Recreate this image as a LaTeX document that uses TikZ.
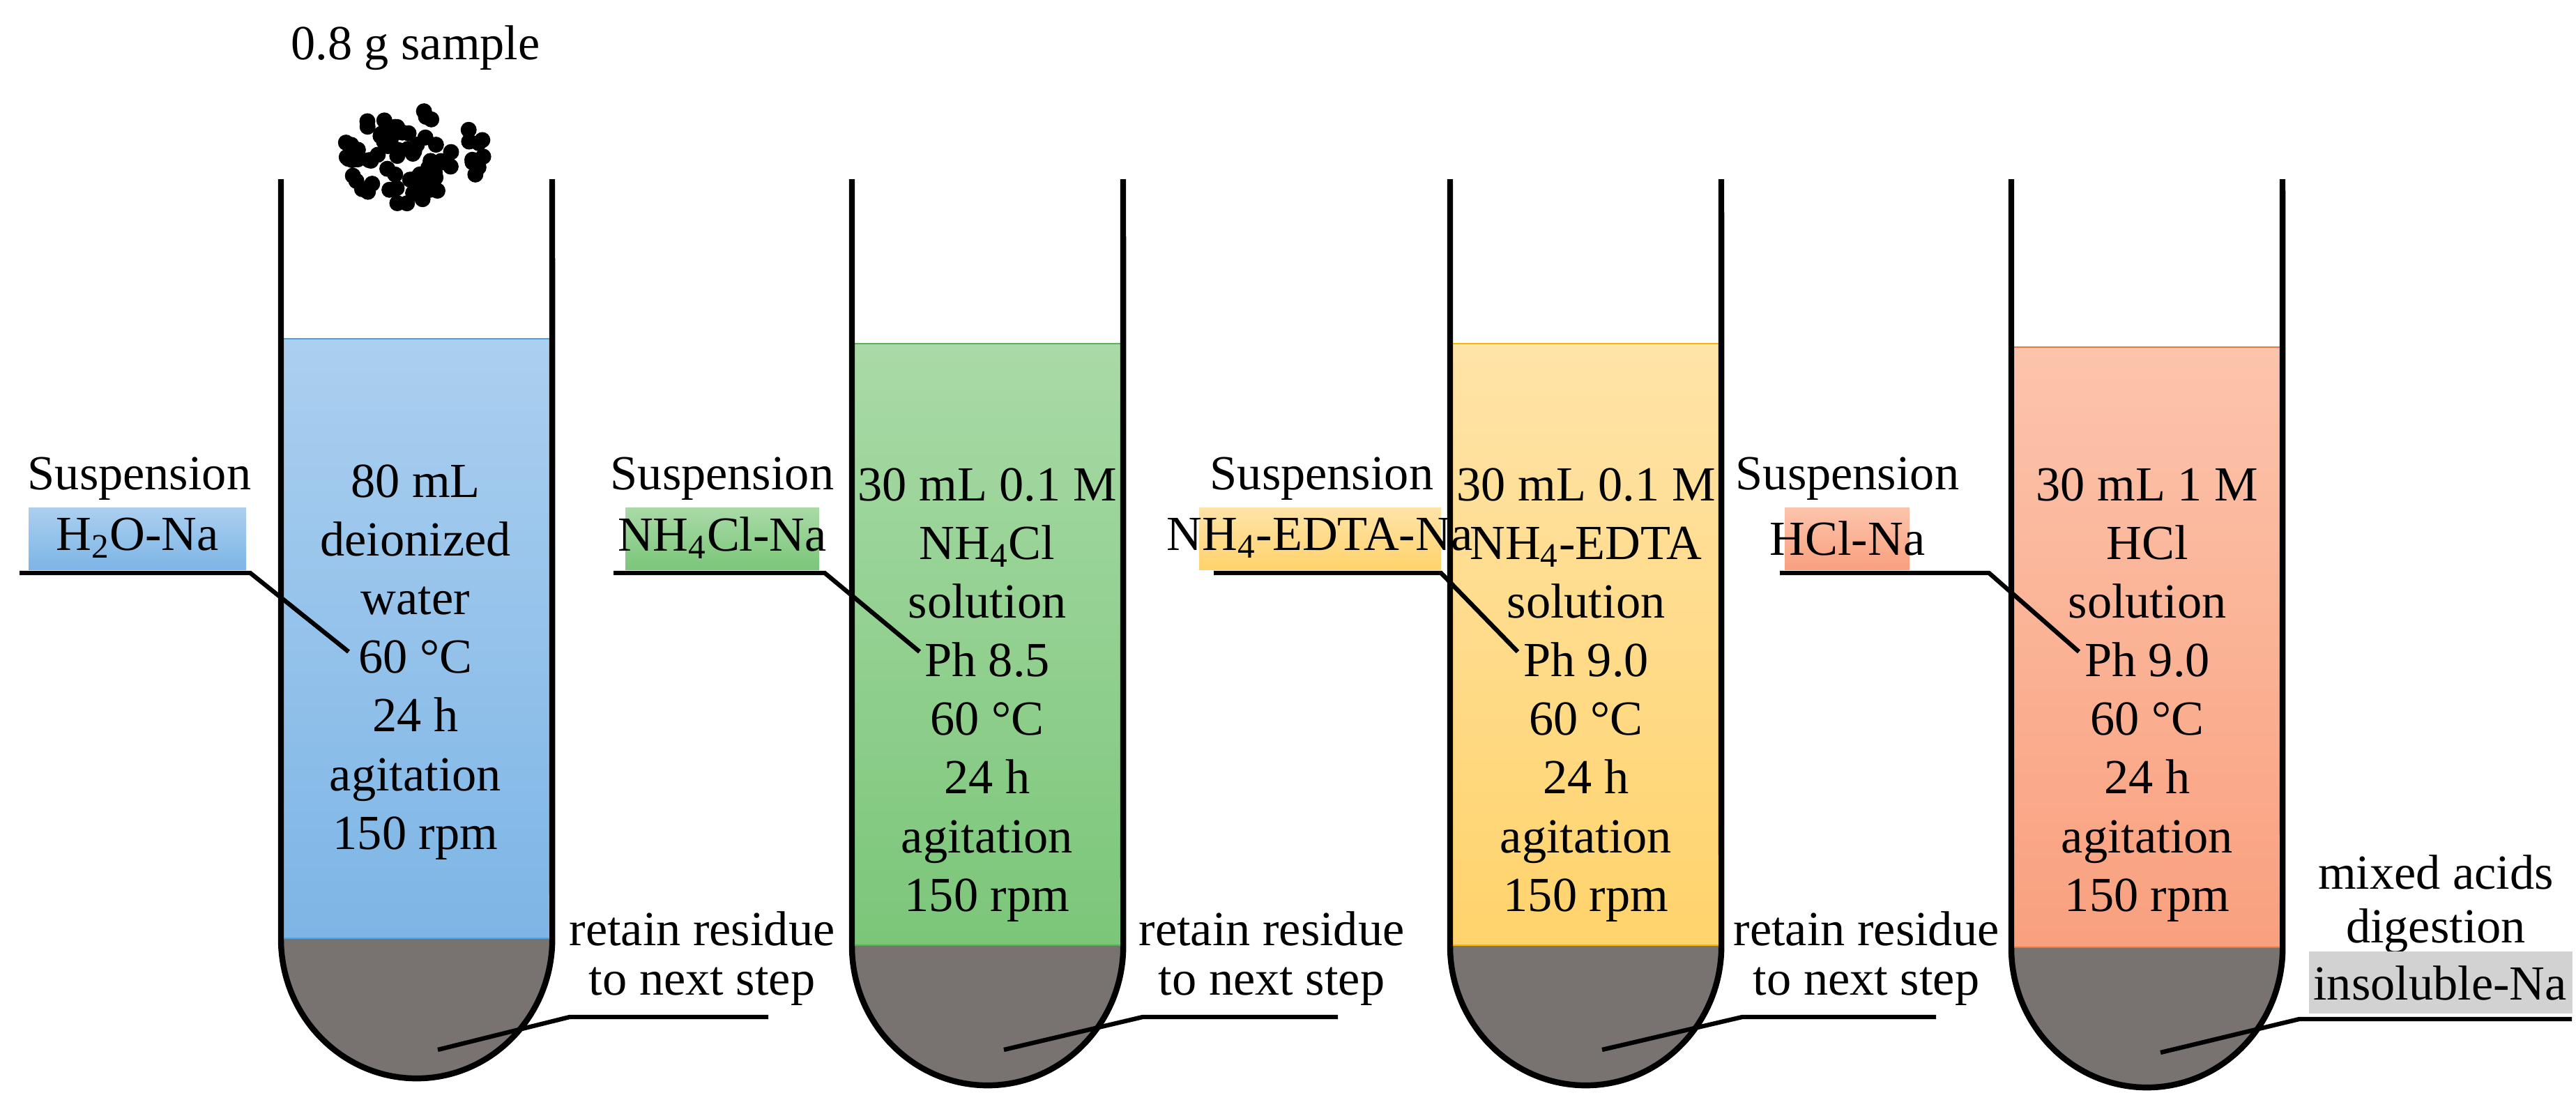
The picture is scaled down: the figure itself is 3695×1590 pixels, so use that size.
\documentclass[tikz,border=0pt]{standalone}
\usepackage{fontspec}
\setmainfont{Liberation Serif}
\begin{document}
\begin{tikzpicture}[x=0.01cm,y=-0.01cm,
  txt/.style={font=\fontsize{20}{23.9}\selectfont,align=center,inner sep=1pt},
  lbl/.style={font=\fontsize{20}{23.9}\selectfont,inner sep=2pt},
  wall/.style={line width=2.4pt},
  conn/.style={line width=1.8pt}]
\definecolor{bT}{HTML}{ABCFEF}\definecolor{bB}{HTML}{7DB5E6}
\definecolor{gT}{HTML}{A9DAA7}\definecolor{gB}{HTML}{7BC679}
\definecolor{yT}{HTML}{FFE4A8}\definecolor{yB}{HTML}{FFD36C}
\definecolor{sT}{HTML}{FCC4AC}\definecolor{sB}{HTML}{F9A07E}
\definecolor{res}{HTML}{787270}
\useasboundingbox (0,0) rectangle (3695,1590);
\foreach \L/\lt/\rt/\ct/\cb/\ce in {403/486/1347/bT/bB/4BA3E0, 1222/493/1357/gT/gB/5FAE5C, 2080/493/1357/yT/yB/F5B800, 2885/498/1360/sT/sB/E9783F}{
  \definecolor{edge}{HTML}{\ce}
  \shade[top color=\ct,bottom color=\cb] (\L,\lt) rectangle ({\L+389},\rt);
  \draw[edge,line width=0.8pt] (\L,\lt) -- ({\L+389},\lt);
  \draw[edge,line width=1.2pt] (\L,\rt) -- ({\L+389},\rt);
  \fill[res] (\L,\rt) arc (180:360:1.945cm and 2cm) -- cycle;
  \draw[wall] (\L,257) -- (\L,\rt) arc (180:360:1.945cm and 2cm) -- ({\L+389},257);
}
\node[lbl] (sample) at (596,69) {0.8 g sample};
\pgfmathsetseed{11}
\foreach \i in {1,...,75}{
  \pgfmathsetmacro{\rr}{sqrt(rnd)}
  \pgfmathsetmacro{\aa}{360*rnd}
  \fill ({590+108*\rr*cos(\aa)},{222+72*\rr*sin(\aa)}) circle (0.115cm);
}
\node[txt] (t1) at (596,950) {80 mL\\deionized\\water\\60 °C\\24 h\\agitation\\150 rpm};
\node[txt] (t2) at (1416,997) {30 mL 0.1 M\\NH\textsubscript{4}Cl\\solution\\Ph 8.5\\60 °C\\24 h\\agitation\\150 rpm};
\node[txt] (t3) at (2275,997) {30 mL 0.1 M\\NH\textsubscript{4}-EDTA\\solution\\Ph 9.0\\60 °C\\24 h\\agitation\\150 rpm};
\node[txt] (t4) at (3080,997) {30 mL 1 M\\HCl\\solution\\Ph 9.0\\60 °C\\24 h\\agitation\\150 rpm};
\node[lbl] (s1) at (200,687) {Suspension};
\node[lbl] (s2) at (1036,687) {Suspension};
\node[lbl] (s3) at (1896,687) {Suspension};
\node[lbl] (s4) at (2650,687) {Suspension};
\shade[top color=bT,bottom color=bB] (41,728) rectangle (353,817);
\shade[top color=gT,bottom color=gB] (897,728) rectangle (1175,817);
\shade[top color=yT,bottom color=yB] (1720,728) rectangle (2067,817);
\shade[top color=sT,bottom color=sB] (2560,728) rectangle (2739,817);
\node[lbl] (n1) at (197,772) {H\textsubscript{2}O-Na};
\node[lbl] (n2) at (1036,772) {NH\textsubscript{4}Cl-Na};
\node[lbl] (n3) at (1893,772) {NH\textsubscript{4}-EDTA-Na};
\node[lbl] (n4) at (2650,772) {HCl-Na};
\coordinate (a1) at (28,822); \coordinate (b1) at (359,822); \coordinate (c1) at (500,935);
\coordinate (a2) at (880,822); \coordinate (b2) at (1183,822); \coordinate (c2) at (1319,935);
\coordinate (a3) at (1741,822); \coordinate (b3) at (2067,822); \coordinate (c3) at (2177,935);
\coordinate (a4) at (2553,822); \coordinate (b4) at (2853,822); \coordinate (c4) at (2982,935);
\foreach \k in {1,2,3,4}{\draw[conn] (a\k) -- (b\k) -- (c\k);}
\foreach \k/\x/\la/\lb/\e in {1/1007/817/1102/628, 2/1824/1639/1919/1440, 3/2677/2499/2777/2298}{
  \node[lbl] (r\k) at (\x,1332) {retain residue};
  \node[lbl] (q\k) at (\x,1415) {to next step};
  \coordinate (d\k) at (\la,1459); \coordinate (e\k) at (\lb,1459); \coordinate (f\k) at (\e,1506);
  \draw[conn] (f\k) -- (d\k) -- (e\k);
}
\node[lbl] (m1) at (3494,1251) {mixed acids};
\node[lbl] (m2) at (3494,1336) {digestion};
\fill[gray!35] (3312,1365) rectangle (3690,1454);
\node[lbl] (ins) at (3500,1410) {insoluble-Na};
\coordinate (d4) at (3298,1462); \coordinate (e4) at (3689,1462); \coordinate (f4) at (3099,1510);
\draw[conn] (f4) -- (d4) -- (e4);
\end{tikzpicture}
\end{document}
